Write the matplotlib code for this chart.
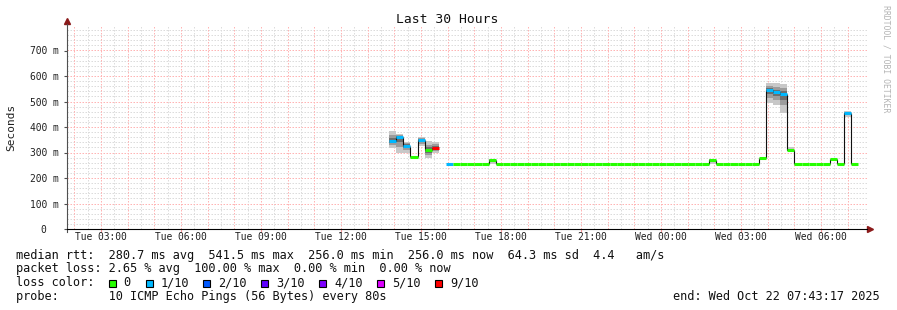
import numpy as np
import matplotlib.pyplot as plt
from matplotlib.patches import Rectangle

nan = np.nan

# median rtt per 16 min step (ms), starting Tue 13:48
median_ms = [345, 360, 327, 282, 348, 309, 318, nan,
             256, 256, 256, 256, 256, 256, 270,
             256, 256, 256, 256, 256, 256, 256, 256, 256, 256,
             256, 256, 256, 256, 256, 256, 256, 256, 256, 256,
             256, 256, 256, 256, 256, 256, 256, 256, 256, 256,
             270, 256, 256, 256, 256, 256, 256,
             278, 544, 536, 530, 309,
             256, 256, 256, 256, 256, 273, 256, 454, 256]
loss = [1, 1, 1, 0, 1, 0, 9, 0,
        1, 0, 0, 0, 0, 0, 0,
        0, 0, 0, 0, 0, 0, 0, 0, 0, 0,
        0, 0, 0, 0, 0, 0, 0, 0, 0, 0,
        0, 0, 0, 0, 0, 0, 0, 0, 0, 0,
        0, 0, 0, 0, 0, 0, 0,
        0, 1, 1, 1, 0,
        0, 0, 0, 0, 0, 0, 0, 1, 0]

# smoke (spread of the 10 pings) for some steps
smoke_idx = [0, 1, 2, 4, 5, 6, 14, 45, 53, 54, 55, 56, 64]
smoke_lo = [318, 298, 298, 326, 278, 298, 256, 256, 494, 486, 456, 305, 440]
smoke_hi = [384, 372, 342, 362, 345, 342, 276, 276, 571, 571, 569, 320, 462]

t0 = 13.8          # hours since Tue 00:00
step = 16 / 60.0
t_end = 31 + 43/60 + 17/3600
t_start = t_end - 30

tick_pos = [3, 6, 9, 12, 15, 18, 21, 24, 27, 30]
tick_lab = ["Tue 03:00", "Tue 06:00", "Tue 09:00", "Tue 12:00", "Tue 15:00",
            "Tue 18:00", "Tue 21:00", "Wed 00:00", "Wed 03:00", "Wed 06:00"]
ytick_pos = [0, 0.1, 0.2, 0.3, 0.4, 0.5, 0.6, 0.7]
ytick_lab = ["0  ", "100 m", "200 m", "300 m", "400 m", "500 m", "600 m", "700 m"]

loss_colors = {0: '#26ff00', 1: '#00b8ff', 2: '#0059ff', 3: '#5e00ff',
               4: '#7e00ff', 5: '#dd00ff', 9: '#ff0000'}
legend_loss = [0, 1, 2, 3, 4, 5, 9]
legend_lab = ["0", "1/10", "2/10", "3/10", "4/10", "5/10", "9/10"]

MONO = 'DejaVu Sans Mono'
W, H = 897, 310
fig = plt.figure(figsize=(W/100, H/100), dpi=100)
ax = fig.add_axes([67/W, 1 - 229/H, 800/W, 204/H])
ax.set_xlim(t_start, t_end)
ax.set_ylim(0, 0.8)

# grid
gkw = dict(lw=0.72, ls=(0, (1.5, 1.5)))
for g in np.arange(0.02, 0.8, 0.02):
    if abs(g*10 - round(g*10)) > 1e-6:
        ax.axhline(g, color='#dcdcdc', zorder=0, **gkw)
for g in np.arange(2.0, 31.8, 1.0):
    ax.axvline(g - 0.5, color='#dcdcdc', zorder=0, **gkw)
for g in np.arange(0.1, 0.75, 0.1):
    ax.axhline(g, color='#ffb4b4', zorder=0.5, **gkw)
for g in np.arange(2.0, 31.8, 1.0):
    ax.axvline(g, color='#ffb4b4', zorder=0.5, **gkw)

med = np.array(median_ms, dtype=float) / 1000.0
edges = t0 + step * np.arange(len(med) + 1)

# smoke
for i, lo, hi in zip(smoke_idx, smoke_lo, smoke_hi):
    m = med[i]
    lo, hi = lo/1000.0, hi/1000.0
    for frac, col in [(1.0, '#c8c8c8'), (0.6, '#9c9c9c'), (0.3, '#6e6e6e')]:
        b = m - (m - lo) * frac
        t = m + (hi - m) * frac
        ax.bar(edges[i], t - b, bottom=b, width=step, align='edge',
               color=col, lw=0, zorder=1)

# vertical connectors
for i in range(len(med) - 1):
    if not np.isnan(med[i]) and not np.isnan(med[i+1]) and med[i] != med[i+1]:
        ax.vlines(edges[i+1], min(med[i], med[i+1]), max(med[i], med[i+1]),
                  color='#101010', lw=0.8, zorder=2)
# median segments
for i in range(len(med)):
    if np.isnan(med[i]):
        continue
    ax.hlines(med[i], edges[i], edges[i+1], color=loss_colors[loss[i]],
              lw=2.2, zorder=3)

for s in ['top', 'right']:
    ax.spines[s].set_visible(False)
ax.spines['left'].set_color('#505050')
ax.spines['bottom'].set_color('#000000')
ax.spines['left'].set_bounds(-0.012, 0.805)
ax.plot([0], [1.02], marker='^', color='#8b1a1a', ms=4, transform=ax.transAxes, clip_on=False)
ax.plot([1.004], [0], marker='>', color='#8b1a1a', ms=4, transform=ax.transAxes, clip_on=False)

ax.set_xticks(tick_pos)
ax.set_xticklabels(tick_lab, fontfamily=MONO, fontsize=6.9, color='#202020')
ax.tick_params(axis='x', length=2, color='#ff9a9a', pad=0.5)
ax.set_yticks(ytick_pos)
ax.set_yticklabels(ytick_lab, fontfamily=MONO, fontsize=6.9, color='#202020')
ax.tick_params(axis='y', length=2, color='#505050', pad=4)

fig.text(447/W, 1 - 19.5/H, "Last 30 Hours", family=MONO, fontsize=9.4,
         ha='center', va='center', color='#101010')
fig.text(11/W, 1 - 127/H, "Seconds", family=MONO, fontsize=8, rotation=90,
         ha='center', va='center', color='#202020')
fig.text(886/W, 1 - 5/H, "RRDTOOL / TOBI OETIKER", family=MONO, fontsize=5.9,
         rotation=270, ha='center', va='top', color='#b4b4b4')

fs = 8.55
fig.text(16/W, 1 - 255/H,
         "median rtt:  280.7 ms avg  541.5 ms max  256.0 ms min  256.0 ms now  64.3 ms sd  4.4   am/s",
         family=MONO, fontsize=fs, va='center', color='#101010')
fig.text(16/W, 1 - 268.5/H,
         "packet loss: 2.65 % avg  100.00 % max  0.00 % min  0.00 % now",
         family=MONO, fontsize=fs, va='center', color='#101010')
fig.text(16/W, 1 - 282.5/H, "loss color:", family=MONO, fontsize=fs,
         va='center', color='#101010')
box_x = [108.7, 145.7, 202.7, 261.3, 319, 376.7, 435]
for bx, lv, lab in zip(box_x, legend_loss, legend_lab):
    fig.patches.append(Rectangle((bx/W, 1 - 286.5/H), 7/W, 7/H,
                                 transform=fig.transFigure, facecolor=loss_colors[lv],
                                 edgecolor='black', lw=0.8))
    fig.text((bx + 15)/W, 1 - 282.5/H, lab, family=MONO, fontsize=fs,
             va='center', color='#101010')
fig.text(16/W, 1 - 296.5/H,
         "probe:       10 ICMP Echo Pings (56 Bytes) every 80s",
         family=MONO, fontsize=fs, va='center', color='#101010')
fig.text(880/W, 1 - 296.5/H, "end: Wed Oct 22 07:43:17 2025",
         family=MONO, fontsize=fs, va='center', ha='right', color='#101010')

fig.savefig('out.png', dpi=100)
